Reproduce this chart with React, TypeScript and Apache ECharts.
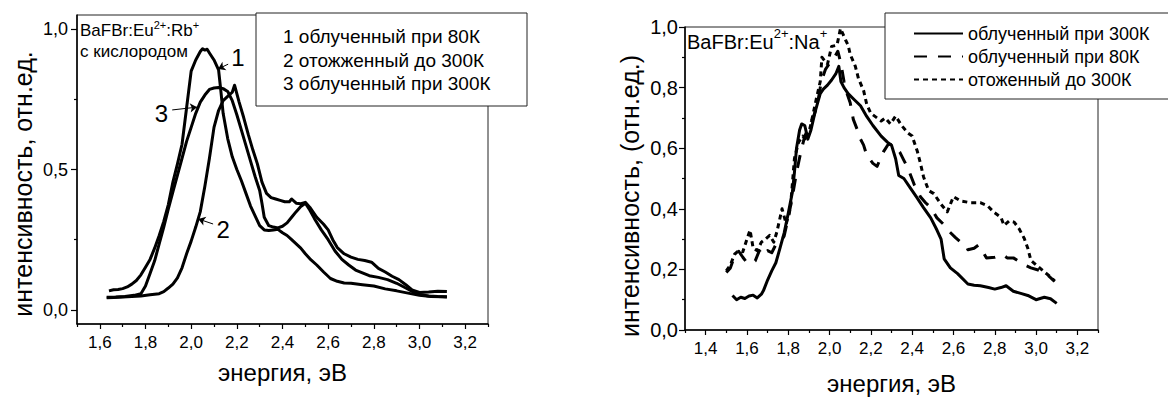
import React, { useEffect, useRef } from "react";
import * as echarts from "echarts";

const FONT = "'Liberation Sans', Arial, Helvetica, sans-serif";

// ---------- left panel (BaFBr:Eu2+:Rb+) ----------
const leftXMajor = [1.6, 1.8, 2.0, 2.2, 2.4, 2.6, 2.8, 3.0, 3.2];
const leftXMinor = [1.5, 1.7, 1.9, 2.1, 2.3, 2.5, 2.7, 2.9, 3.1, 3.3];
const leftYMajor = [0, 0.5, 1.0];
const leftYMinor = [0.25, 0.75];

const leftNames = ["1 облученный при 80К", "2 отожженный до 300К", "3 облученный при 300К"];

const curve1: [number, number][] = [
  [1.64, 0.068], [1.66, 0.072], [1.68, 0.073], [1.7, 0.076], [1.72, 0.082], [1.74, 0.092],
  [1.76, 0.105], [1.78, 0.125], [1.8, 0.152], [1.82, 0.18], [1.84, 0.22], [1.86, 0.265],
  [1.88, 0.315], [1.9, 0.375], [1.92, 0.455], [1.94, 0.52], [1.96, 0.59], [1.98, 0.72],
  [2.0, 0.85], [2.02, 0.89], [2.04, 0.92], [2.05, 0.93], [2.06, 0.925], [2.07, 0.928],
  [2.08, 0.915], [2.1, 0.89], [2.12, 0.855], [2.13, 0.78], [2.14, 0.7], [2.16, 0.61],
  [2.18, 0.545], [2.2, 0.5], [2.22, 0.46], [2.24, 0.415], [2.26, 0.37], [2.28, 0.335],
  [2.3, 0.3], [2.32, 0.285], [2.34, 0.283], [2.36, 0.285], [2.38, 0.287], [2.4, 0.275],
  [2.42, 0.265], [2.44, 0.25], [2.46, 0.235], [2.48, 0.22], [2.5, 0.2], [2.52, 0.182],
  [2.55, 0.16], [2.58, 0.135], [2.61, 0.112], [2.64, 0.102], [2.67, 0.096], [2.7, 0.095],
  [2.75, 0.09], [2.8, 0.085], [2.85, 0.075], [2.9, 0.068], [2.95, 0.06], [3.0, 0.052],
  [3.05, 0.048], [3.1, 0.047], [3.12, 0.046],
];

const curve2: [number, number][] = [
  [1.63, 0.043], [1.66, 0.044], [1.7, 0.046], [1.74, 0.048], [1.78, 0.05], [1.82, 0.054],
  [1.86, 0.058], [1.88, 0.065], [1.9, 0.078], [1.92, 0.092], [1.94, 0.114], [1.96, 0.15],
  [1.98, 0.2], [2.0, 0.245], [2.02, 0.295], [2.04, 0.35], [2.06, 0.44], [2.08, 0.54],
  [2.1, 0.65], [2.12, 0.71], [2.14, 0.745], [2.16, 0.76], [2.18, 0.775], [2.19, 0.8],
  [2.2, 0.77], [2.21, 0.74], [2.23, 0.685], [2.25, 0.625], [2.27, 0.57], [2.29, 0.52],
  [2.31, 0.455], [2.33, 0.415], [2.35, 0.4], [2.37, 0.395], [2.39, 0.39], [2.41, 0.385],
  [2.43, 0.385], [2.44, 0.395], [2.46, 0.38], [2.48, 0.378], [2.5, 0.383], [2.52, 0.365],
  [2.55, 0.33], [2.58, 0.305], [2.6, 0.285], [2.62, 0.25], [2.64, 0.222], [2.67, 0.2],
  [2.7, 0.188], [2.73, 0.18], [2.76, 0.176], [2.79, 0.17], [2.82, 0.148], [2.85, 0.135],
  [2.88, 0.12], [2.91, 0.108], [2.94, 0.09], [2.97, 0.07], [3.0, 0.062], [3.04, 0.064],
  [3.08, 0.067], [3.12, 0.066],
];

const curve3: [number, number][] = [
  [1.63, 0.045], [1.67, 0.046], [1.71, 0.048], [1.75, 0.052], [1.78, 0.058], [1.8, 0.085],
  [1.82, 0.13], [1.84, 0.175], [1.86, 0.235], [1.88, 0.295], [1.9, 0.36], [1.92, 0.42],
  [1.94, 0.48], [1.96, 0.54], [1.98, 0.6], [2.0, 0.65], [2.02, 0.7], [2.04, 0.74],
  [2.06, 0.765], [2.08, 0.785], [2.1, 0.79], [2.12, 0.792], [2.14, 0.788], [2.16, 0.778],
  [2.18, 0.745], [2.2, 0.695], [2.22, 0.64], [2.24, 0.585], [2.26, 0.53], [2.28, 0.475],
  [2.3, 0.425], [2.31, 0.38], [2.32, 0.33], [2.34, 0.3], [2.36, 0.295], [2.38, 0.292],
  [2.4, 0.298], [2.42, 0.31], [2.44, 0.33], [2.46, 0.35], [2.48, 0.368], [2.5, 0.38],
  [2.52, 0.355], [2.54, 0.325], [2.57, 0.285], [2.6, 0.25], [2.63, 0.21], [2.66, 0.18],
  [2.69, 0.16], [2.72, 0.142], [2.75, 0.132], [2.78, 0.122], [2.82, 0.116], [2.86, 0.108],
  [2.9, 0.095], [2.94, 0.078], [2.97, 0.065], [3.0, 0.055], [3.04, 0.05], [3.08, 0.048],
  [3.12, 0.047],
];

// annotation arrows (data coordinates): from -> to
const arrow1 = [[2.162, 0.875], [2.118, 0.858]];
const arrow2 = [[2.096, 0.306], [2.031, 0.324]];
const arrow3 = [[1.917, 0.712], [2.026, 0.722]];
const label1 = [2.205, 0.9];
const label2 = [2.14, 0.285];
const label3 = [1.87, 0.7];

// ---------- right panel (BaFBr:Eu2+:Na+) ----------
const rightXMajor = [1.4, 1.6, 1.8, 2.0, 2.2, 2.4, 2.6, 2.8, 3.0, 3.2];
const rightXMinor = [1.3, 1.5, 1.7, 1.9, 2.1, 2.3, 2.5, 2.7, 2.9, 3.1, 3.3];
const rightYMajor = [0, 0.2, 0.4, 0.6, 0.8, 1.0];
const rightYMinor = [0.1, 0.3, 0.5, 0.7, 0.9];

const rightNames = ["облученный при 300К", "облученный при 80К", "отоженный до 300К"];

const irr300: [number, number][] = [
  [1.53, 0.114], [1.55, 0.1], [1.57, 0.108], [1.59, 0.104], [1.61, 0.112], [1.63, 0.115],
  [1.65, 0.106], [1.67, 0.118], [1.68, 0.13], [1.7, 0.165], [1.72, 0.195], [1.74, 0.222],
  [1.76, 0.27], [1.78, 0.32], [1.8, 0.385], [1.82, 0.455], [1.83, 0.52], [1.84, 0.6],
  [1.855, 0.66], [1.865, 0.68], [1.88, 0.675], [1.895, 0.63], [1.91, 0.66], [1.93, 0.72],
  [1.955, 0.78], [1.97, 0.795], [1.99, 0.808], [2.01, 0.825], [2.03, 0.845], [2.045, 0.87],
  [2.055, 0.82], [2.07, 0.8], [2.09, 0.78], [2.12, 0.76], [2.15, 0.74], [2.18, 0.705],
  [2.21, 0.675], [2.25, 0.64], [2.28, 0.62], [2.3, 0.61], [2.32, 0.565], [2.335, 0.51],
  [2.36, 0.5], [2.39, 0.47], [2.42, 0.44], [2.455, 0.404], [2.49, 0.37], [2.52, 0.33],
  [2.54, 0.3], [2.555, 0.235], [2.585, 0.205], [2.62, 0.186], [2.67, 0.152], [2.7, 0.148],
  [2.73, 0.146], [2.77, 0.14], [2.8, 0.135], [2.83, 0.14], [2.855, 0.146], [2.89, 0.128],
  [2.93, 0.12], [2.96, 0.114], [3.0, 0.1], [3.02, 0.104], [3.04, 0.108], [3.07, 0.103],
  [3.1, 0.088],
];

const irr80: [number, number][] = [
  [1.5, 0.19], [1.52, 0.205], [1.54, 0.245], [1.56, 0.26], [1.58, 0.24], [1.6, 0.222],
  [1.62, 0.22], [1.64, 0.228], [1.66, 0.262], [1.68, 0.245], [1.7, 0.262], [1.72, 0.255],
  [1.74, 0.282], [1.76, 0.29], [1.78, 0.31], [1.8, 0.37], [1.82, 0.44], [1.84, 0.52],
  [1.86, 0.585], [1.88, 0.64], [1.9, 0.67], [1.92, 0.7], [1.94, 0.74], [1.96, 0.82],
  [1.98, 0.86], [2.0, 0.88], [2.02, 0.895], [2.04, 0.92], [2.055, 0.88], [2.07, 0.82],
  [2.085, 0.78], [2.1, 0.75], [2.115, 0.695], [2.135, 0.66], [2.15, 0.63], [2.165, 0.61],
  [2.18, 0.577], [2.21, 0.55], [2.23, 0.54], [2.26, 0.587], [2.285, 0.614], [2.31, 0.61],
  [2.34, 0.587], [2.36, 0.56], [2.38, 0.533], [2.41, 0.48], [2.44, 0.44], [2.465, 0.42],
  [2.49, 0.404], [2.52, 0.37], [2.55, 0.35], [2.58, 0.325], [2.61, 0.305], [2.635, 0.29],
  [2.66, 0.28], [2.67, 0.265], [2.7, 0.27], [2.72, 0.28], [2.74, 0.26], [2.76, 0.238],
  [2.8, 0.24], [2.84, 0.248], [2.86, 0.238], [2.89, 0.238], [2.92, 0.225], [2.94, 0.216],
  [2.975, 0.205], [3.01, 0.198], [3.04, 0.19], [3.07, 0.173], [3.09, 0.16],
];

const annealed: [number, number][] = [
  [1.5, 0.195], [1.52, 0.215], [1.54, 0.25], [1.56, 0.262], [1.58, 0.258], [1.6, 0.3],
  [1.615, 0.33], [1.63, 0.27], [1.65, 0.262], [1.67, 0.29], [1.69, 0.3], [1.71, 0.312],
  [1.73, 0.29], [1.745, 0.324], [1.77, 0.4], [1.79, 0.35], [1.81, 0.4], [1.83, 0.566],
  [1.85, 0.62], [1.87, 0.64], [1.89, 0.625], [1.91, 0.68], [1.935, 0.76], [1.955, 0.82],
  [1.963, 0.9], [1.99, 0.877], [2.01, 0.936], [2.036, 0.94], [2.053, 0.995], [2.077, 0.958],
  [2.09, 0.94], [2.1, 0.91], [2.125, 0.87], [2.14, 0.83], [2.165, 0.79], [2.18, 0.745],
  [2.2, 0.715], [2.22, 0.705], [2.25, 0.69], [2.27, 0.7], [2.295, 0.68], [2.32, 0.706],
  [2.35, 0.674], [2.38, 0.65], [2.4, 0.64], [2.425, 0.59], [2.44, 0.55], [2.455, 0.506],
  [2.48, 0.46], [2.505, 0.45], [2.54, 0.415], [2.57, 0.39], [2.6, 0.44], [2.635, 0.426],
  [2.683, 0.42], [2.73, 0.42], [2.765, 0.41], [2.797, 0.388], [2.83, 0.372], [2.845, 0.345],
  [2.87, 0.36], [2.894, 0.356], [2.918, 0.334], [2.943, 0.302], [2.96, 0.27], [2.975, 0.23],
  [3.0, 0.215], [3.04, 0.192], [3.07, 0.175], [3.09, 0.162],
];

const fmt = (v: number) => v.toFixed(1).replace(".", ",");

function mainX(grid: number, min: number, max: number, major: number[], name: string, nameGap: number) {
  return {
    type: "value", gridIndex: grid, min, max, position: "bottom",
    name, nameLocation: "middle", nameGap,
    nameTextStyle: { fontFamily: FONT, fontSize: 24, color: "#000" },
    axisLine: { show: true, onZero: false, lineStyle: { color: "#000", width: 1.5 } },
    axisTick: { show: true, inside: false, length: 5, customValues: major, lineStyle: { color: "#000", width: 1.2 } },
    axisLabel: { show: true, customValues: major, formatter: fmt, margin: 10, fontFamily: FONT, fontSize: 17, color: "#000" },
    splitLine: { show: false },
  };
}
function minorX(grid: number, min: number, max: number, minor: number[]) {
  return {
    type: "value", gridIndex: grid, min, max, position: "bottom",
    axisLine: { show: false, onZero: false },
    axisTick: { show: true, inside: false, length: 3, customValues: minor, lineStyle: { color: "#000", width: 1.2 } },
    axisLabel: { show: false },
    splitLine: { show: false },
  };
}
function mainY(grid: number, min: number, max: number, major: number[], name: string, nameGap: number, fs: number, margin: number, shift: number) {
  return {
    type: "value", gridIndex: grid, min, max, position: "left",
    name, nameLocation: "middle", nameGap,
    nameTextStyle: { fontFamily: FONT, fontSize: 25, color: "#000", padding: [0, shift, 0, 0] },
    axisLine: { show: true, onZero: false, lineStyle: { color: "#000", width: 1.5 } },
    axisTick: { show: true, inside: false, length: 6, customValues: major, lineStyle: { color: "#000", width: 1.2 } },
    axisLabel: { show: true, customValues: major, formatter: fmt, margin, fontFamily: FONT, fontSize: fs, color: "#000" },
    splitLine: { show: false },
  };
}
function minorY(grid: number, min: number, max: number, minor: number[]) {
  return {
    type: "value", gridIndex: grid, min, max, position: "left",
    axisLine: { show: false, onZero: false },
    axisTick: { show: true, inside: false, length: 3, customValues: minor, lineStyle: { color: "#000", width: 1.2 } },
    axisLabel: { show: false },
    splitLine: { show: false },
  };
}

function curveSeries(name: string, data: [number, number][], xi: number, yi: number, type: any, extra: any = {}) {
  return {
    type: "line", name, data, xAxisIndex: xi, yAxisIndex: yi,
    symbol: "none", showSymbol: false, smooth: false, silent: true,
    lineStyle: { color: "#000", width: 3, type, join: "round" },
    itemStyle: { color: "#000" },
    ...extra,
  };
}

function annotation(arrow: number[][], label: number[], text: string) {
  return {
    markLine: {
      silent: true, symbol: ["none", "arrow"], symbolSize: 7,
      lineStyle: { color: "#000", width: 1, type: "solid" },
      label: { show: false },
      data: [[{ coord: arrow[0] }, { coord: arrow[1] }]],
    },
    markPoint: {
      silent: true, symbol: "rect", symbolSize: 1,
      itemStyle: { color: "rgba(0,0,0,0)" },
      label: { show: true, position: "inside", formatter: text, fontFamily: FONT, fontSize: 24, color: "#000" },
      data: [{ coord: label, value: text }],
    },
  };
}

export default function App() {
  const ref = useRef<HTMLDivElement>(null);
  useEffect(() => {
    if (!ref.current) return;
    const chart = echarts.init(ref.current, undefined, { renderer: "svg" });
    const option: any = {
      animation: false,
      backgroundColor: "#fff",
      textStyle: { fontFamily: FONT },
      grid: [
        { left: 77, top: 15, width: 411, height: 309, show: true, borderColor: "#222", borderWidth: 1, backgroundColor: "transparent" },
        { left: 685, top: 27, width: 413, height: 310, show: true, borderColor: "#222", borderWidth: 1, backgroundColor: "transparent" },
      ],
      xAxis: [
        mainX(0, 1.5, 3.3, leftXMajor, "энергия, эВ", 36),
        mainX(1, 1.3, 3.3, rightXMajor, "энергия, эВ", 41),
        minorX(0, 1.5, 3.3, leftXMinor),
        minorX(1, 1.3, 3.3, rightXMinor),
      ],
      yAxis: [
        mainY(0, -0.05, 1.05, leftYMajor, "интенсивность, отн.ед.", 42, 18, 9, 29),
        mainY(1, 0, 1.0, rightYMajor, "интенсивность, (отн.ед.)", 43, 20, 7, 35),
        minorY(0, -0.05, 1.05, leftYMinor),
        minorY(1, 0, 1.0, rightYMinor),
      ],
      legend: {
        show: true, orient: "vertical", left: 913, top: 22, padding: 0, itemGap: 0,
        itemWidth: 49, itemHeight: 14, selectedMode: false, z: 20,
        itemStyle: { opacity: 0 },
        data: rightNames,
        textStyle: { fontFamily: FONT, fontSize: 18, color: "#000", lineHeight: 23 },
      },
      graphic: [
        { type: "rect", z: 10, shape: { x: 256, y: 13, width: 271, height: 93 }, style: { fill: "#fff", stroke: "#222", lineWidth: 1 } },
        { type: "text", z: 11, x: 283, y: 36, style: { text: leftNames[0], fontFamily: FONT, fontSize: 19, fill: "#000", verticalAlign: "middle" } },
        { type: "text", z: 11, x: 283, y: 60, style: { text: leftNames[1], fontFamily: FONT, fontSize: 19, fill: "#000", verticalAlign: "middle" } },
        { type: "text", z: 11, x: 283, y: 83, style: { text: leftNames[2], fontFamily: FONT, fontSize: 19, fill: "#000", verticalAlign: "middle" } },
        { type: "rect", z: 10, shape: { x: 885, y: 13, width: 300, height: 86 }, style: { fill: "#fff", stroke: "#222", lineWidth: 1 } },
        {
          type: "text", z: 11, x: 80, y: 19,
          style: {
            text: "{a|BaFBr:Eu}{s|2+}{a|:Rb}{s|+}\n{b|с кислородом}",
            fontFamily: FONT, fill: "#000",
            rich: {
              a: { fontFamily: FONT, fontSize: 17, lineHeight: 23, fill: "#000" },
              s: { fontFamily: FONT, fontSize: 11, lineHeight: 12, verticalAlign: "top", fill: "#000" },
              b: { fontFamily: FONT, fontSize: 17, lineHeight: 18, fill: "#000" },
            },
          },
        },
        {
          type: "text", z: 11, x: 687, y: 27,
          style: {
            text: "{a|BaFBr:Eu}{s|2+}{a|:Na}{s|+}",
            fontFamily: FONT, fill: "#000",
            rich: {
              a: { fontFamily: FONT, fontSize: 20, lineHeight: 30, fill: "#000" },
              s: { fontFamily: FONT, fontSize: 13, lineHeight: 14, verticalAlign: "top", fill: "#000" },
            },
          },
        },
      ],
      series: [
        curveSeries(leftNames[0], curve1, 0, 0, "solid", annotation(arrow1, label1, "1")),
        curveSeries(leftNames[1], curve2, 0, 0, "solid", annotation(arrow2, label2, "2")),
        curveSeries(leftNames[2], curve3, 0, 0, "solid", annotation(arrow3, label3, "3")),
        curveSeries(rightNames[0], irr300, 1, 1, "solid"),
        curveSeries(rightNames[1], irr80, 1, 1, [13, 11]),
        curveSeries(rightNames[2], annealed, 1, 1, [5, 4]),
      ],
    };
    chart.setOption(option);
    return () => chart.dispose();
  }, []);
  return <div ref={ref} style={{ position: "absolute", left: 0, top: 0, width: 1168, height: 400 }} />;
}
